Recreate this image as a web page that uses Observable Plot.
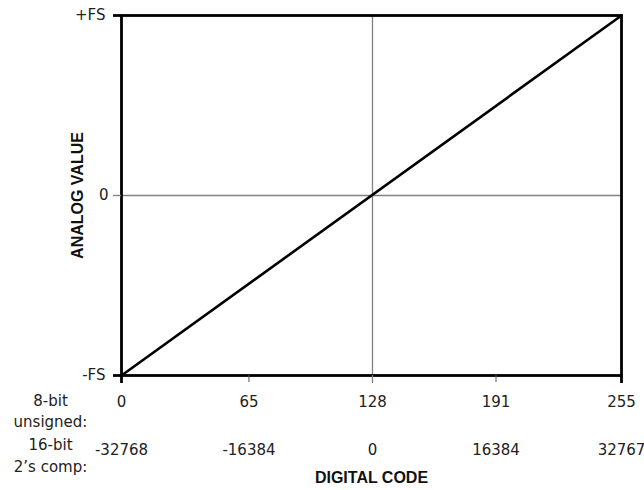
<!DOCTYPE html>
<html>
<head>
<meta charset="utf-8">
<script src="https://cdn.jsdelivr.net/npm/d3@7"></script>
<script src="https://cdn.jsdelivr.net/npm/@observablehq/plot@0.6"></script>
<style>
  html, body { margin: 0; padding: 0; background: #fff; }
</style>
</head>
<body>
<div id="chart"></div>
<script>
// Data
const codes8 = [0, 65, 128, 191, 255];
const labels8 = ["0", "65", "128", "191", "255"];
const labels16 = ["-32768", "-16384", "0", "16384", "32767"];
const analogTicks = [-1, 0, 1];
const analogLabels = ["-FS", "0", "+FS"];
const lineCodes = [0, 255];
const lineValues = [-1, 1];
const midCode = 128;
const midValue = 0;

const lineData = lineCodes.map((c, i) => ({code: c, value: lineValues[i]}));
const tickFont = "DejaVu Sans, sans-serif";
const labelFont = "Liberation Sans, Arial, sans-serif";

const chart = Plot.plot({
  width: 644,
  height: 490,
  marginLeft: 121,
  marginRight: 23,
  marginTop: 15,
  marginBottom: 115,
  style: {fontFamily: tickFont, fontSize: "15px", color: "#222", background: "#fff"},
  x: {domain: [0, 255]},
  y: {domain: [-1, 1]},
  marks: [
    // crosshair
    Plot.ruleX([midCode], {stroke: "#808080", strokeWidth: 1.3}),
    Plot.ruleY([midValue], {stroke: "#808080", strokeWidth: 1.3}),
    // transfer line
    Plot.line(lineData, {x: "code", y: "value", stroke: "black", strokeWidth: 2.6}),
    // frame
    Plot.frame({stroke: "black", strokeWidth: 2.8}),
    // x ticks
    Plot.axisX([lineCodes[0], lineCodes[1]], {tickSize: 8, stroke: "black", strokeWidth: 2.8, tickFormat: () => "", label: null}),
    Plot.axisX([codes8[1], codes8[3]], {tickSize: 7, stroke: "#555", strokeWidth: 1, tickFormat: () => "", label: null}),
    Plot.axisX([midCode], {tickSize: 8, stroke: "#808080", strokeWidth: 1.3, tickFormat: () => "", label: null}),
    // x label rows
    Plot.axisX(codes8, {tickSize: 0, tickPadding: 21, tickFormat: (d) => labels8[codes8.indexOf(d)], fill: "#222", fontSize: 15, label: null}),
    Plot.axisX(codes8, {tickSize: 0, tickPadding: 69, tickFormat: (d) => labels16[codes8.indexOf(d)], fill: "#222", fontSize: 15, label: null}),
    // y ticks
    Plot.axisY([analogTicks[0], analogTicks[2]], {tickSize: 8, stroke: "black", strokeWidth: 2.8, tickPadding: 8,
      tickFormat: (d) => analogLabels[analogTicks.indexOf(d)], fill: "#222", fontSize: 15, label: null}),
    Plot.axisY([midValue], {tickSize: 8, stroke: "#808080", strokeWidth: 1.3, tickPadding: 5,
      tickFormat: (d) => analogLabels[analogTicks.indexOf(d)], fill: "#222", fontSize: 15, label: null}),
    // row titles
    Plot.text(["8-bit\nunsigned:"], {frameAnchor: "bottom-left", textAnchor: "middle", dx: -71, dy: 51, lineHeight: 1.4, fontSize: 15, fill: "#222", fontFamily: tickFont}),
    Plot.text(["16-bit\n2\u2019s comp:"], {frameAnchor: "bottom-left", textAnchor: "middle", dx: -71, dy: 96, lineHeight: 1.45, fontSize: 15, fill: "#222", fontFamily: tickFont}),
    // axis titles
    Plot.text(["DIGITAL CODE"], {frameAnchor: "bottom", dy: 107, fontWeight: "bold", fontSize: 16, fill: "#111", fontFamily: labelFont}),
    Plot.text(["ANALOG VALUE"], {frameAnchor: "left", textAnchor: "middle", dx: -44, rotate: -90, fontWeight: "bold", fontSize: 16, fill: "#111", fontFamily: labelFont})
  ]
});
document.getElementById("chart").appendChild(chart);
</script>
</body>
</html>
